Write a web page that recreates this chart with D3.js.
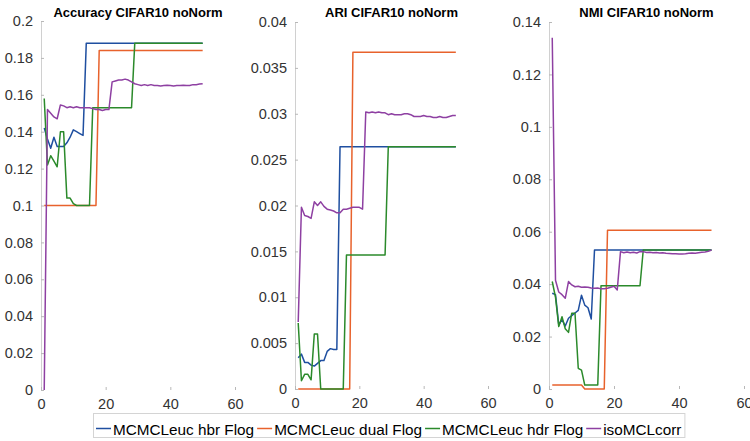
<!DOCTYPE html>
<head>
    <meta charset="utf-8">
    <title>CIFAR10 noNorm</title>
    <style>
        body { margin: 0; background: #fff; }
        text { font-family: "Liberation Sans", Arial, sans-serif; }
    </style>
</head>

<body>

    <svg width="750" height="441"></svg>

    <script src="https://d3js.org/d3.v7.min.js"></script>

    <script>

        // iterations 1..50
        var iters = [1,2,3,4,5,6,7,8,9,10,11,12,13,14,15,16,17,18,19,20,21,22,23,24,25,
                     26,27,28,29,30,31,32,33,34,35,36,37,38,39,40,41,42,43,44,45,46,47,48,49,50];

        var seriesNames = ["MCMCLeuc hbr Flog", "MCMCLeuc dual Flog", "MCMCLeuc hdr Flog", "isoMCLcorr"];
        var seriesColors = ["#1f4fa0", "#e8622c", "#2b8a2b", "#8e40a2"];

        var titles = ["Accuracy CIFAR10 noNorm", "ARI CIFAR10 noNorm", "NMI CIFAR10 noNorm"];

        var xTicks = [0, 20, 40, 60];
        var xTickLabels = ["0", "20", "40", "60"];

        var accTicks = [0, 0.02, 0.04, 0.06, 0.08, 0.1, 0.12, 0.14, 0.16, 0.18, 0.2];
        var accTickLabels = ["0", "0.02", "0.04", "0.06", "0.08", "0.1", "0.12", "0.14", "0.16", "0.18", "0.2"];
        var ariTicks = [0, 0.005, 0.01, 0.015, 0.02, 0.025, 0.03, 0.035, 0.04];
        var ariTickLabels = ["0", "0.005", "0.01", "0.015", "0.02", "0.025", "0.03", "0.035", "0.04"];
        var nmiTicks = [0, 0.02, 0.04, 0.06, 0.08, 0.1, 0.12, 0.14];
        var nmiTickLabels = ["0", "0.02", "0.04", "0.06", "0.08", "0.1", "0.12", "0.14"];

        // Accuracy
        var accHbr = [0.142,0.136,0.131,0.137,0.132,0.132,0.132,0.134,0.137,0.141,0.140,0.139,0.138,
                      0.188,0.188,0.188,0.188,0.188,0.188,0.188,0.188,0.188,0.188,0.188,0.188,0.188,
                      0.188,0.188,0.188,0.188,0.188,0.188,0.188,0.188,0.188,0.188,0.188,0.188,0.188,
                      0.188,0.188,0.188,0.188,0.188,0.188,0.188,0.188,0.188,0.188,0.188];
        var accDual = [0.1,0.1,0.1,0.1,0.1,0.1,0.1,0.1,0.1,0.1,0.1,0.1,0.1,0.1,0.1,0.1,0.1,
                       0.184,0.184,0.184,0.184,0.184,0.184,0.184,0.184,0.184,0.184,0.184,0.184,0.184,
                       0.184,0.184,0.184,0.184,0.184,0.184,0.184,0.184,0.184,0.184,0.184,0.184,0.184,
                       0.184,0.184,0.184,0.184,0.184,0.184,0.184];
        var accHdr = [0.158,0.122,0.127,0.124,0.121,0.140,0.140,0.104,0.104,0.101,0.100,0.100,0.100,0.100,0.100,
                      0.153,0.153,0.153,0.153,0.153,0.153,0.153,0.153,0.153,0.153,0.153,0.153,0.153,
                      0.188,0.188,0.188,0.188,0.188,0.188,0.188,0.188,0.188,0.188,0.188,0.188,0.188,
                      0.188,0.188,0.188,0.188,0.188,0.188,0.188,0.188,0.188];
        var accIso = [0.000,0.152,0.150,0.148,0.147,0.1545,0.154,0.153,0.1535,0.153,0.1535,0.153,0.153,0.153,
                      0.153,0.1525,0.152,0.152,0.1515,0.152,0.152,
                      0.167,0.1675,0.168,0.168,0.1685,0.168,0.167,0.166,
                      0.1655,0.165,0.1655,0.165,0.1655,0.165,0.165,0.1648,0.165,0.1652,0.165,0.1648,
                      0.165,0.165,0.1652,0.165,0.165,0.1655,0.1655,0.1658,0.166];

        // ARI
        var ariHbr = [0.0034,0.0038,0.0029,0.0029,0.0026,0.0025,0.0028,0.0031,0.0031,0.0041,0.0044,0.0043,0.0043,
                      0.0264,0.0264,0.0264,0.0264,0.0264,0.0264,0.0264,0.0264,0.0264,0.0264,0.0264,0.0264,
                      0.0264,0.0264,0.0264,0.0264,0.0264,0.0264,0.0264,0.0264,0.0264,0.0264,0.0264,0.0264,
                      0.0264,0.0264,0.0264,0.0264,0.0264,0.0264,0.0264,0.0264,0.0264,0.0264,0.0264,0.0264,0.0264];
        var ariDual = [0,0,0,0,0,0,0,0,0,0,0,0,0,0,0,0,0,
                       0.0367,0.0367,0.0367,0.0367,0.0367,0.0367,0.0367,0.0367,0.0367,0.0367,0.0367,
                       0.0367,0.0367,0.0367,0.0367,0.0367,0.0367,0.0367,0.0367,0.0367,0.0367,0.0367,
                       0.0367,0.0367,0.0367,0.0367,0.0367,0.0367,0.0367,0.0367,0.0367,0.0367,0.0367];
        var ariHdr = [0.0072,0.0009,0.0016,0.0016,0.0010,0.0060,0.0060,0,0,0,0,0,0,0,0,
                      0.0146,0.0146,0.0146,0.0146,0.0146,0.0146,0.0146,0.0146,0.0146,0.0146,0.0146,0.0146,0.0146,
                      0.0264,0.0264,0.0264,0.0264,0.0264,0.0264,0.0264,0.0264,0.0264,0.0264,0.0264,
                      0.0264,0.0264,0.0264,0.0264,0.0264,0.0264,0.0264,0.0264,0.0264,0.0264,0.0264];
        var ariIso = [0.0073,0.0198,0.0189,0.0188,0.0186,0.0204,0.0200,0.0204,0.0199,0.0196,0.0195,0.0194,
                      0.0192,0.0192,0.0196,0.0196,0.0197,0.0198,0.0198,0.0198,0.0196,
                      0.0302,0.0301,0.0302,0.0301,0.0302,0.0301,0.0301,0.0299,0.0300,0.0299,
                      0.0299,0.0299,0.0300,0.0300,0.0299,0.0297,0.0297,0.0297,0.0298,0.0297,
                      0.0297,0.0296,0.0296,0.0297,0.0296,0.0296,0.0297,0.0298,0.0298];

        // NMI
        var nmiHbr = [0.0365,0.036,0.0245,0.0265,0.024,0.027,0.028,0.029,0.030,0.0358,0.032,0.031,0.0267,
                      0.053,0.053,0.053,0.053,0.053,0.053,0.053,0.053,0.053,0.053,0.053,0.053,0.053,
                      0.053,0.053,0.053,0.053,0.053,0.053,0.053,0.053,0.053,0.053,0.053,0.053,0.053,
                      0.053,0.053,0.053,0.053,0.053,0.053,0.053,0.053,0.053,0.053,0.053];
        var nmiDual = [0.0015,0.0015,0.0015,0.0015,0.0015,0.0015,0.0015,0.0015,0.0015,0.0015,
                       0,0,0,0,0,0,0,
                       0.0606,0.0606,0.0606,0.0606,0.0606,0.0606,0.0606,0.0606,0.0606,0.0606,0.0606,
                       0.0606,0.0606,0.0606,0.0606,0.0606,0.0606,0.0606,0.0606,0.0606,0.0606,0.0606,
                       0.0606,0.0606,0.0606,0.0606,0.0606,0.0606,0.0606,0.0606,0.0606,0.0606,0.0606];
        var nmiHdr = [0.041,0.035,0.0238,0.0276,0.023,0.0216,0.0289,0.0289,0.0079,0.0072,
                      0.0015,0.0015,0.0015,0.0015,0.0015,
                      0.0394,0.0394,0.0394,0.0394,0.0394,0.0394,0.0394,0.0394,0.0394,0.0394,0.0394,0.0394,0.0394,
                      0.053,0.053,0.053,0.053,0.053,0.053,0.053,0.053,0.053,0.053,0.053,
                      0.053,0.053,0.053,0.053,0.053,0.053,0.053,0.053,0.053,0.053,0.053];
        var nmiIso = [0.134,0.0415,0.037,0.036,0.0346,0.041,0.0397,0.039,0.0392,0.0388,0.0389,0.0388,
                      0.0385,0.0384,0.0385,0.0382,0.0382,0.0384,0.0388,0.0392,0.0378,
                      0.0524,0.052,0.0523,0.052,0.0522,0.0519,0.0524,0.0524,0.0521,0.0522,
                      0.052,0.0521,0.0519,0.052,0.0518,0.0517,0.0516,0.0516,0.0515,0.0515,
                      0.0516,0.0518,0.0519,0.0518,0.052,0.0522,0.0523,0.0525,0.053];

        var panels = [
            { title: titles[0], left: 41, right: 235, top: 21, bottom: 390, ymax: 0.2,
              ticks: accTicks, labels: accTickLabels, series: [accHbr, accDual, accHdr, accIso] },
            { title: titles[1], left: 295, right: 488, top: 22, bottom: 389, ymax: 0.04,
              ticks: ariTicks, labels: ariTickLabels, series: [ariHbr, ariDual, ariHdr, ariIso] },
            { title: titles[2], left: 549, right: 744, top: 22, bottom: 389, ymax: 0.14,
              ticks: nmiTicks, labels: nmiTickLabels, series: [nmiHbr, nmiDual, nmiHdr, nmiIso] }
        ];

        var svg = d3.select("svg");

        panels.forEach(function (p) {
            var x = d3.scaleLinear().domain([0, 60]).range([p.left, p.right]);
            var y = d3.scaleLinear().domain([0, p.ymax]).range([p.bottom, p.top]);

            var line = d3.line()
                .x(function (d, i) { return x(iters[i]); })
                .y(function (d) { return y(d); });

            var g = svg.append("g");

            // y axis, ticks pointing inside
            var ya = g.append("g")
                .attr("transform", "translate(" + p.left + ",0)")
                .call(d3.axisLeft(y).tickValues(p.ticks).tickSize(-3).tickPadding(8)
                    .tickFormat(function (d, i) { return p.labels[i]; }));
            ya.select(".domain").attr("stroke", "#d0d0d0");
            ya.selectAll(".tick line").attr("stroke", "#b8b8b8");
            ya.selectAll(".tick text").attr("fill", "#333").style("font-size", "14.5px");

            // x axis: no base line, just ticks + labels
            var xa = g.append("g")
                .attr("transform", "translate(0," + p.bottom + ")")
                .call(d3.axisBottom(x).tickValues(xTicks).tickSize(-3).tickPadding(9)
                    .tickFormat(function (d, i) { return xTickLabels[i]; }));
            xa.select(".domain").remove();
            xa.selectAll(".tick line").attr("stroke", "#b8b8b8");
            xa.selectAll(".tick text").attr("fill", "#333").style("font-size", "14.5px");

            g.selectAll(".series")
                .data(p.series)
                .enter().append("path")
                .attr("class", "series")
                .attr("fill", "none")
                .attr("stroke", function (d, i) { return seriesColors[i]; })
                .attr("stroke-width", 1.5)
                .attr("stroke-linejoin", "round")
                .attr("d", line);

            g.append("text")
                .attr("x", (p.left + p.right) / 2)
                .attr("y", 17)
                .attr("text-anchor", "middle")
                .style("font-size", "13px")
                .style("font-weight", "bold")
                .attr("fill", "#000")
                .text(p.title);
        });

        // legend along the bottom
        var legend = svg.append("g");
        var lx = 96, ly = 428.5;
        var boxLeft = 93;
        seriesNames.forEach(function (name, i) {
            legend.append("line")
                .attr("x1", lx).attr("x2", lx + 15)
                .attr("y1", ly).attr("y2", ly)
                .attr("stroke", seriesColors[i])
                .attr("stroke-width", 1.5);
            var t = legend.append("text")
                .attr("x", lx + 17)
                .attr("y", 434.5)
                .style("font-size", "15.3px")
                .attr("fill", "#000")
                .text(name);
            lx = lx + 17 + t.node().getComputedTextLength() + 3;
        });
        legend.insert("rect", ":first-child")
            .attr("x", boxLeft + 0.5).attr("y", 413.5)
            .attr("width", lx - boxLeft).attr("height", 24)
            .attr("fill", "#fff")
            .attr("stroke", "#d4d4d4");

    </script>

</body>
